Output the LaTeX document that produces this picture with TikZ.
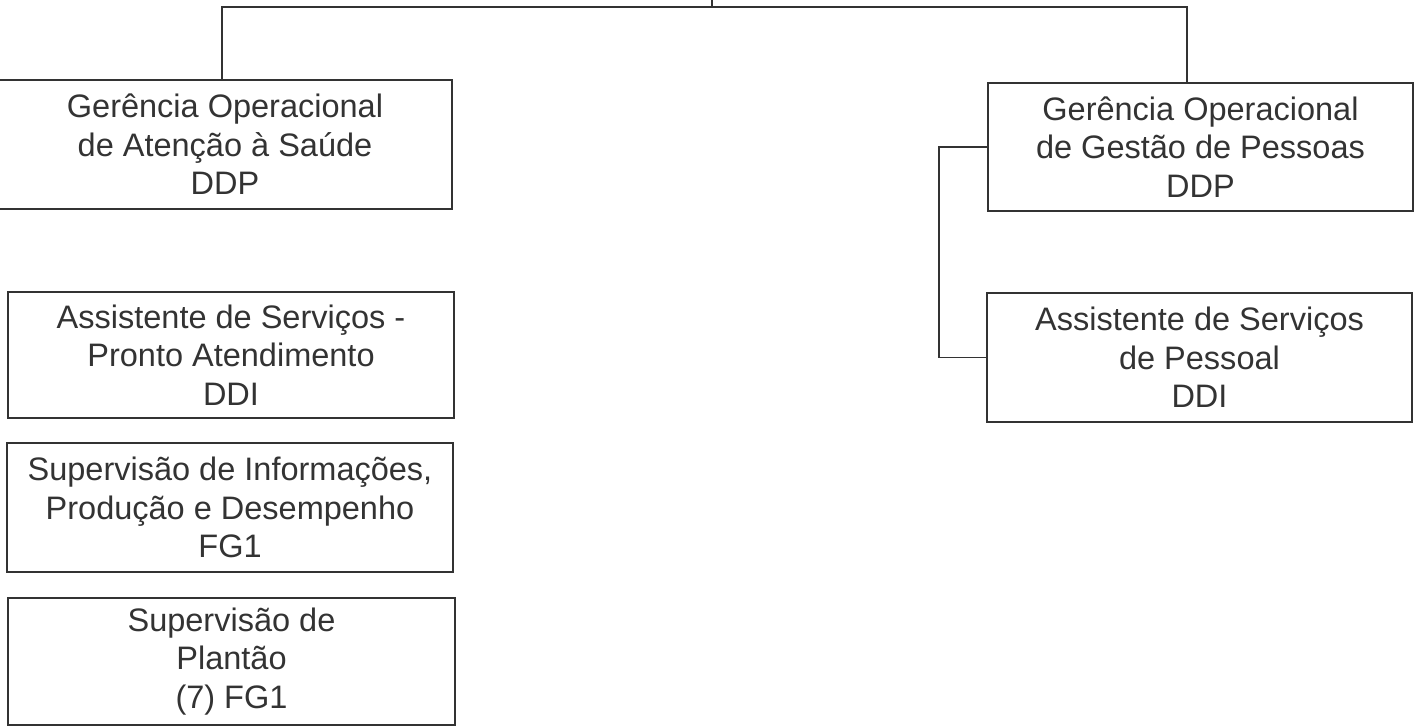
\documentclass[tikz,border=0pt]{standalone}
\usepackage{fontspec}
\setmainfont{Liberation Sans}
\usetikzlibrary{calc}

\tikzset{
  unit box/.style={draw=black!80, line width=1.1pt, text=black!80, align=center,
    inner sep=0pt, font=\fontsize{18.5}{22}\selectfont},
  link/.style={draw=black!80, line width=1.1pt}
}

\begin{document}
\begin{tikzpicture}[x=0.02cm, y=-0.02cm]
\useasboundingbox (0,0) rectangle (1421,726);

% left column
\node [unit box, minimum width=9.08cm, minimum height=2.58cm] (gas) at (225,144.5) {Gerência Operacional\\de Atenção à Saúde\\DDP};
\node [unit box, minimum width=8.92cm, minimum height=2.52cm] (aspa) at (231,355) {Assistente de Serviços -\\Pronto Atendimento\\DDI};
\node [unit box, minimum width=8.92cm, minimum height=2.58cm] (sipd) at (230,507.5) {Supervisão de Informações,\\Produção e Desempenho\\FG1};
\node [unit box, minimum width=8.94cm, minimum height=2.54cm] (splan) at (231.5,661.5) {Supervisão de\\Plantão\\(7) FG1};

% right column
\node [unit box, minimum width=8.5cm, minimum height=2.56cm] (ggp) at (1200.5,147) {Gerência Operacional\\de Gestão de Pessoas\\DDP};
\node [unit box, minimum width=8.5cm, minimum height=2.58cm] (asp) at (1199.5,357.5) {Assistente de Serviços\\de Pessoal\\DDI};

% links
\coordinate (org) at (712,-5);
\coordinate (hub) at (712,7);
\draw [link] (org) -- (hub);
\draw [link] (hub) -| ($(gas.north)+(-3,0)$);
\draw [link] (hub) -| ($(ggp.north)+(-13.5,0)$);
\draw [link] (ggp.west) -- ++(-48,0) |- (asp.west);

\end{tikzpicture}
\end{document}
